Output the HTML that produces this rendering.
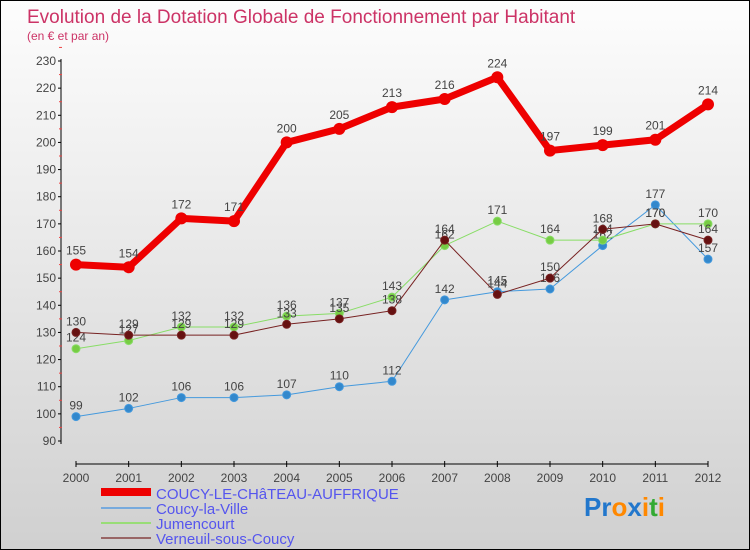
<!DOCTYPE html>
<html><head><meta charset="utf-8"><style>
body{margin:0;}
#c{width:750px;height:550px;position:relative;box-sizing:border-box;border:1px solid #000;background:linear-gradient(#fdfdfd,#d0d0d0);font-family:"Liberation Sans",sans-serif;overflow:hidden}
</style></head><body>
<div id="c">
<svg id="s" width="750" height="550" style="position:absolute;left:0;top:0">
<text x="26" y="22" font-size="19" fill="#cc3366">Evolution de la Dotation Globale de Fonctionnement par Habitant</text>
<text x="26" y="39" font-size="12" fill="#cc3366">(en € et par an)</text>
<g id="axes"></g><g id="series"></g>
<g>
<rect x="100" y="487" width="50" height="8" fill="#e00"/>
<text x="155" y="498" font-size="15" fill="#5555ee">COUCY-LE-CHâTEAU-AUFFRIQUE</text>
<rect x="100" y="506" width="50" height="2" fill="#77aadd"/>
<text x="155" y="513" font-size="15" fill="#5555ee">Coucy-la-Ville</text>
<rect x="100" y="521" width="50" height="2" fill="#99dd77"/>
<text x="155" y="528" font-size="15" fill="#5555ee">Jumencourt</text>
<rect x="100" y="536" width="50" height="2" fill="#996666"/>
<text x="155" y="543" font-size="15" fill="#5555ee">Verneuil-sous-Coucy</text>
</g>
<text x="583" y="515" font-size="26" font-weight="bold"><tspan fill="#2277cc">Pr</tspan><tspan fill="#ff8800">o</tspan><tspan fill="#2277cc">x</tspan><tspan fill="#ff8800">i</tspan><tspan fill="#33aa33">t</tspan><tspan fill="#ff8800">i</tspan></text>
</svg>
</div>
<script>
const years=[2000,2001,2002,2003,2004,2005,2006,2007,2008,2009,2010,2011,2012];
const yTicks=[90,100,110,120,130,140,150,160,170,180,190,200,210,220,230];
const coucyChateau=[155,154,172,171,200,205,213,216,224,197,199,201,214];
const coucyVille=[99,102,106,106,107,110,112,142,145,146,162,177,157];
const jumencourt=[124,127,132,132,136,137,143,162,171,164,164,170,170];
const verneuil=[130,129,129,129,133,135,138,164,144,150,168,170,164];
const NS="http://www.w3.org/2000/svg";
const X=i=>75+i*(707-75)/(years.length-1);
const Y=v=>440-(v-90)*(380/140);
function mk(t,a,p){const e=document.createElementNS(NS,t);for(const k in a)e.setAttribute(k,a[k]);p.appendChild(e);return e;}
const ax=document.getElementById('axes');
const yl=mk('line',{x1:60,y1:58,x2:60,y2:443,stroke:'#000'},ax);


yTicks.forEach(v=>{mk('line',{x1:57,x2:60,y1:Y(v),y2:Y(v),stroke:'#000'},ax);
const t=mk('text',{x:55,y:Y(v)+4,'font-size':12,fill:'#444','text-anchor':'end'},ax);t.textContent=v;


mk('line',{x1:58,x2:61,y1:Y(v+5),y2:Y(v+5),stroke:'#e44'},ax);});
const xl=mk('line',{x1:75,y1:463,x2:707,y2:463,stroke:'#000'},ax);


years.forEach((y,i)=>{mk('line',{x1:X(i),x2:X(i),y1:460,y2:466,stroke:'#000'},ax);
const t=mk('text',{x:X(i),y:481,'font-size':12,fill:'#444','text-anchor':'middle'},ax);t.textContent=y;

});
const sg=document.getElementById('series');
function draw(d,col,dot,w,r,name){
const g=mk('g',{},sg);


const pl=mk('polyline',{points:d.map((v,i)=>X(i)+','+Y(v)).join(' '),fill:'none',stroke:col,'stroke-width':w,'stroke-linejoin':'round'},g);


d.forEach((v,i)=>{const c=mk('circle',{cx:X(i),cy:Y(v),r:r,fill:dot,stroke:col,'stroke-width':w>3?0:1},g);


const t=mk('text',{x:X(i),y:Y(v)-(w>3?10:7),'font-size':12,fill:'#444','text-anchor':'middle'},g);t.textContent=v;

});}
draw(coucyVille,'#4499dd','#3388cc',1,4,'coucy-la-ville');
draw(jumencourt,'#88dd66','#77cc44',1,4,'jumencourt');
draw(verneuil,'#772222','#661111',1,4,'verneuil');
draw(coucyChateau,'#ee0000','#ee0000',7,6,'coucy-le-chateau');
</script>
</body></html>
